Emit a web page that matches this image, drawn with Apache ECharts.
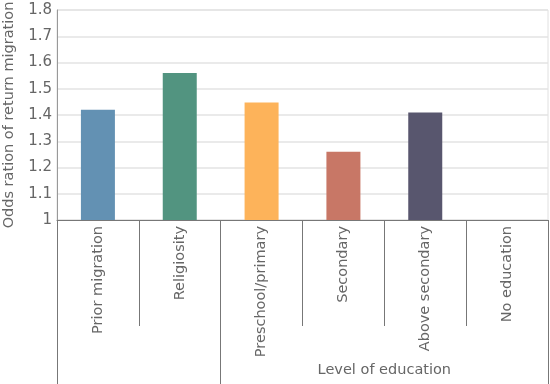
<!DOCTYPE html>
<html>
<head>
<meta charset="utf-8">
<script src="https://cdn.jsdelivr.net/npm/echarts@6/dist/echarts.min.js"></script>
<style>html,body{margin:0;padding:0;background:#fff}#c{width:550px;height:384px}</style>
</head>
<body>
<div id="c"></div>
<script>
var categories = ['Prior migration', 'Religiosity', 'Preschool/primary', 'Secondary', 'Above secondary', 'No education'];
var values = [1.42, 1.56, 1.448, 1.26, 1.41, null];
var barColors = ['#6391b3', '#529480', '#fdb35a', '#c87766', '#58566e', '#999999'];
var groupLabel = 'Level of education';
var groupStartIndex = 2;
var groupEndIndex = 5;
var yTitle = 'Odds ration of return migration';

var chart = echarts.init(document.getElementById('c'), null, {renderer: 'canvas'});
var font = 'DejaVu Sans';
var option = {
  animation: false,
  textStyle: {fontFamily: font},
  grid: {left: 57, right: 2, top: 10, bottom: 164, containLabel: false, outerBoundsMode: 'none',
    show: true, borderColor: '#e0e0e0', borderWidth: 1},
  xAxis: [{
    type: 'category',
    data: categories,
    position: 'bottom',
    axisLine: {show: true, lineStyle: {color: '#777', width: 1}},
    axisTick: {show: true, interval: 0, length: 106, lineStyle: {color: '#777'}},
    axisLabel: {interval: 0, rotate: 90, margin: 6, fontSize: 14.5, color: '#666', fontFamily: font},
    splitLine: {show: false}
  }, {
    type: 'category',
    data: categories,
    position: 'bottom',
    axisLine: {show: false},
    axisTick: {show: true, length: 164, lineStyle: {color: '#777'},
      interval: function (idx) { return idx === 0 || idx === groupStartIndex; }},
    axisLabel: {show: false},
    splitLine: {show: false}
  }],
  yAxis: {
    type: 'value',
    min: 1,
    max: 1.8,
    interval: 0.1,
    name: yTitle,
    nameLocation: 'middle',
    nameGap: 40,
    nameTextStyle: {fontSize: 14.5, color: '#666', fontFamily: font},
    axisLine: {show: true, lineStyle: {color: '#999'}},
    axisTick: {show: false},
    axisLabel: {fontSize: 15, color: '#666', margin: 5, fontFamily: font},
    splitLine: {show: true, lineStyle: {color: '#e3e3e3', width: 1.5}}
  },
  series: [{
    type: 'bar',
    xAxisIndex: 0,
    barWidth: 34,
    data: values.map(function (v, i) {
      return {value: v, itemStyle: {color: barColors[i]}};
    })
  }]
};
chart.setOption(option);

var xa = chart.convertToPixel({xAxisIndex: 0}, categories[groupStartIndex]);
var xb = chart.convertToPixel({xAxisIndex: 0}, categories[groupEndIndex]);
chart.setOption({
  graphic: [{
    type: 'text',
    x: (xa + xb) / 2,
    y: 370,
    style: {text: groupLabel, fontSize: 14.5, fill: '#666', fontFamily: font, align: 'center', verticalAlign: 'middle'}
  }]
});
</script>
</body>
</html>
